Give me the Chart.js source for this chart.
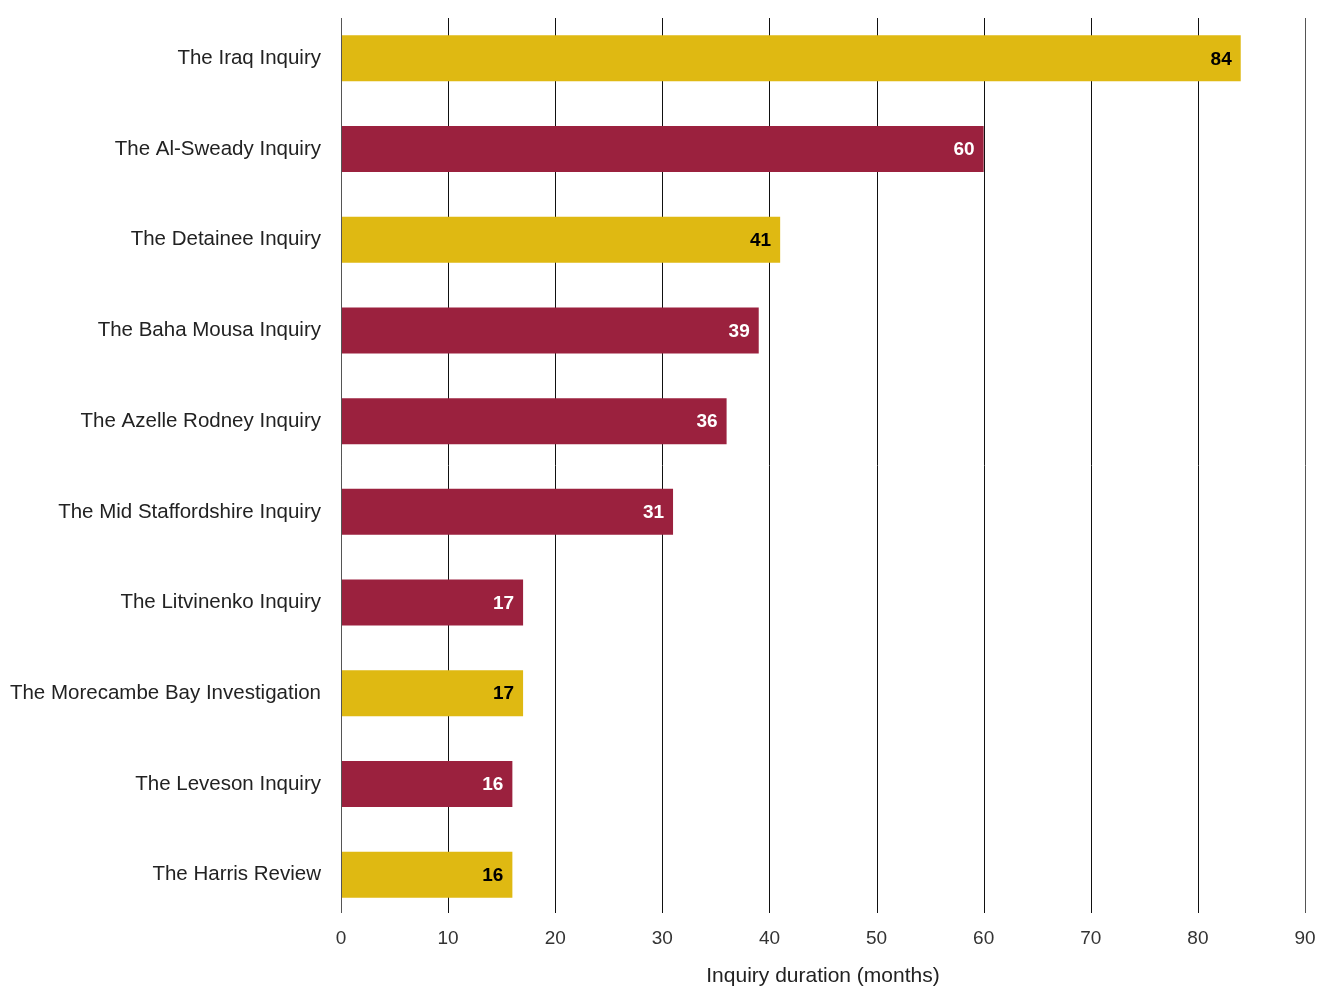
<!DOCTYPE html>
<html>
<head>
<meta charset="utf-8">
<script src="https://cdn.jsdelivr.net/npm/chart.js@4/dist/chart.umd.min.js"></script>
<style>
    body { margin: 0; background: #fff; }
    #wrap { width: 1319px; height: 986px; }
</style>
</head>
<body>
<div id="wrap"><canvas id="chart" width="1319" height="986"></canvas></div>
<script>
// Donnees
const inquiries = [
    'The Iraq Inquiry',
    'The Al-Sweady Inquiry',
    'The Detainee Inquiry',
    'The Baha Mousa Inquiry',
    'The Azelle Rodney Inquiry',
    'The Mid Staffordshire Inquiry',
    'The Litvinenko Inquiry',
    'The Morecambe Bay Investigation',
    'The Leveson Inquiry',
    'The Harris Review'
];
const durations = [84, 60, 41, 39, 36, 31, 17, 17, 16, 16];
const highlighted = [true, false, true, false, false, false, false, true, false, true];
const xTicks = [0, 10, 20, 30, 40, 50, 60, 70, 80, 90];

const GOLD = '#dfb912';
const CRIMSON = '#9b213e';
const FONT = '"Liberation Sans", Arial, Helvetica, sans-serif';

// Lignes verticales de la grille
const gridPlugin = {
    id: 'gridLines',
    beforeDatasetsDraw(chart) {
        const { ctx, chartArea, scales } = chart;
        ctx.save();
        ctx.lineWidth = 1;
        xTicks.forEach(v => {
            const x = Math.round(scales.x.getPixelForValue(v)) + 0.5;
            ctx.strokeStyle = (v === 0 || v === 90) ? '#555' : '#111';
            ctx.beginPath();
            ctx.moveTo(x, chartArea.top + 5);
            ctx.lineTo(x, chartArea.bottom - 7);
            ctx.stroke();
        });
        ctx.restore();
    },
    afterDatasetsDraw(chart) {
        const { ctx, chartArea, scales } = chart;
        const x = Math.round(scales.x.getPixelForValue(0)) + 0.5;
        ctx.save();
        ctx.strokeStyle = '#555';
        ctx.lineWidth = 1;
        ctx.beginPath();
        ctx.moveTo(x, chartArea.top + 5);
        ctx.lineTo(x, chartArea.bottom - 7);
        ctx.stroke();
        ctx.restore();
    }
};

// Valeurs dans les barres
const valuePlugin = {
    id: 'barValues',
    afterDatasetsDraw(chart) {
        const { ctx } = chart;
        const meta = chart.getDatasetMeta(0);
        ctx.save();
        ctx.font = 'bold 19px ' + FONT;
        ctx.textAlign = 'right';
        ctx.textBaseline = 'middle';
        meta.data.forEach((bar, i) => {
            ctx.fillStyle = highlighted[i] ? '#000' : '#fff';
            ctx.fillText(String(durations[i]), bar.x - 9, bar.y + 1);
        });
        ctx.restore();
    }
};

new Chart(document.getElementById('chart'), {
    type: 'bar',
    data: {
        labels: inquiries,
        datasets: [{
            data: durations,
            backgroundColor: highlighted.map(h => h ? GOLD : CRIMSON),
            borderWidth: 0,
            barPercentage: 0.507,
            categoryPercentage: 1
        }]
    },
    options: {
        indexAxis: 'y',
        responsive: false,
        animation: false,
        layout: { padding: { top: 13, right: 14, bottom: 0, left: 0 } },
        plugins: {
            legend: { display: false },
            tooltip: { enabled: false }
        },
        scales: {
            x: {
                min: 0,
                max: 90,
                grid: { display: false, drawTicks: false },
                border: { display: false },
                ticks: {
                    stepSize: 10,
                    padding: 7,
                    color: '#333',
                    font: { family: FONT, size: 19 }
                },
                title: {
                    display: true,
                    text: 'Inquiry duration (months)',
                    color: '#222',
                    padding: { top: 0, bottom: -3 },
                    font: { family: FONT, size: 21 }
                },
                afterFit(scale) {
                    scale.height = 66;
                    scale.paddingLeft = 0;
                    scale.paddingRight = 0;
                }
            },
            y: {
                grid: { display: false, drawTicks: false },
                border: { display: false },
                ticks: {
                    padding: 20,
                    color: '#222',
                    font: { family: FONT, size: 20.5 }
                },
                afterFit(scale) {
                    scale.width = 341;
                    scale.paddingTop = 0;
                    scale.paddingBottom = 0;
                }
            }
        }
    },
    plugins: [gridPlugin, valuePlugin]
});
</script>
</body>
</html>
